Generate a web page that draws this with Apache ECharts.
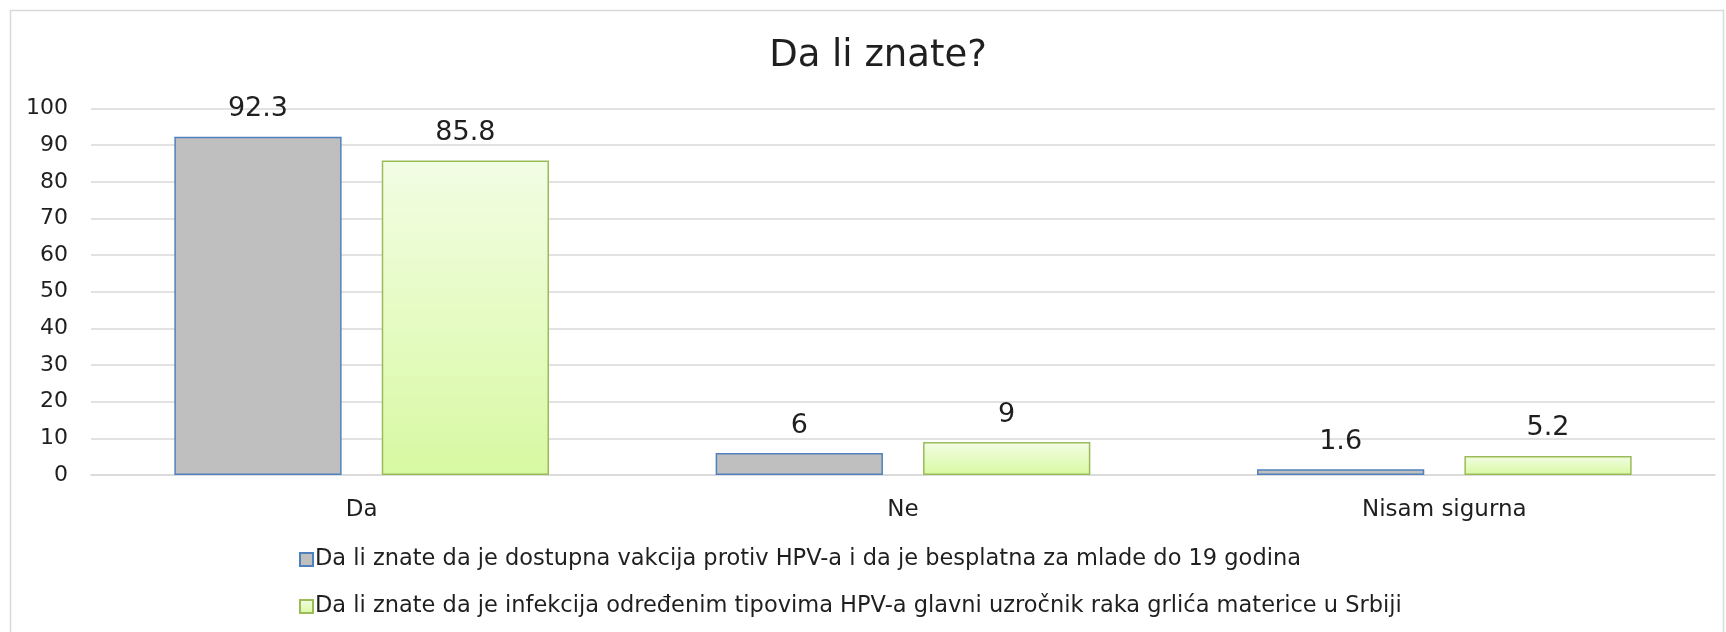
<!DOCTYPE html>
<html>
<head>
<meta charset="utf-8">
<script src="https://cdn.jsdelivr.net/npm/echarts@6/dist/echarts.min.js"></script>
<style>
  html, body { margin: 0; padding: 0; background: #fff; }
  #chart { width: 1726px; height: 632px; }
</style>
</head>
<body>
<div id="chart"></div>
<script>
// podaci
var categories = ["Da", "Ne", "Nisam sigurna"];
var seriesNames = [
  "Da li znate da je dostupna vakcija protiv HPV-a i da je besplatna za mlade do 19 godina",
  "Da li znate da je infekcija određenim tipovima HPV-a glavni uzročnik raka grlića materice u Srbiji"
];
var vakcinaValues = [92.3, 6, 1.6];
var infekcijaValues = [85.8, 9, 5.2];

var fontFam = "'DejaVu Sans', sans-serif";
var txtColor = "#1f1f1f";

var chart = echarts.init(document.getElementById("chart"));

chart.setOption({
  animation: false,
  title: {
    text: "Da li znate?",
    left: 878,
    top: 38,
    padding: 0,
    textAlign: "center",
    textStyle: { fontSize: 37, fontWeight: "normal", color: txtColor, fontFamily: fontFam }
  },
  graphic: [{
    type: "rect",
    shape: { x: 10.5, y: 10.5, width: 1713, height: 640 },
    style: { fill: "none", stroke: "#d9d9d9", lineWidth: 1.5 },
    silent: true
  }],
  legend: {
    orient: "vertical",
    left: 294,
    top: 543,
    itemGap: 24,
    itemWidth: 13,
    itemHeight: 13,
    icon: "rect",
    textStyle: { fontSize: 22.5, color: txtColor, fontFamily: fontFam, padding: [0, 0, 0, -3] },
    data: seriesNames
  },
  grid: { left: 91, right: 11, top: 108.5, bottom: 157 },
  xAxis: {
    type: "category",
    data: categories,
    axisLine: { lineStyle: { color: "#d9d9d9", width: 1.5 } },
    axisTick: { show: false },
    axisLabel: { fontSize: 23, color: txtColor, margin: 24, fontFamily: fontFam }
  },
  yAxis: {
    type: "value",
    min: 0,
    max: 100,
    interval: 10,
    axisLine: { show: false },
    axisTick: { show: false },
    splitLine: { lineStyle: { color: "#d9d9d9", width: 1.5 } },
    axisLabel: { fontSize: 22, color: txtColor, margin: 23, fontFamily: fontFam }
  },
  series: [
    {
      name: seriesNames[0],
      type: "bar",
      data: vakcinaValues,
      barWidth: "30.9%",
      barGap: "24%",
      itemStyle: { color: "#bfbfbf", borderColor: "#4f81bd", borderWidth: 1.5 },
      label: { show: true, position: "top", distance: 14, fontSize: 27, color: txtColor, fontFamily: fontFam }
    },
    {
      name: seriesNames[1],
      type: "bar",
      data: infekcijaValues,
      barWidth: "30.9%",
      itemStyle: {
        color: new echarts.graphic.LinearGradient(0, 0, 0, 1, [
          { offset: 0, color: "#f2fde4" },
          { offset: 1, color: "#d8f9a2" }
        ]),
        borderColor: "#9bbb59",
        borderWidth: 1.5
      },
      label: { show: true, position: "top", distance: 14, fontSize: 27, color: txtColor, fontFamily: fontFam }
    }
  ]
});
</script>
</body>
</html>
